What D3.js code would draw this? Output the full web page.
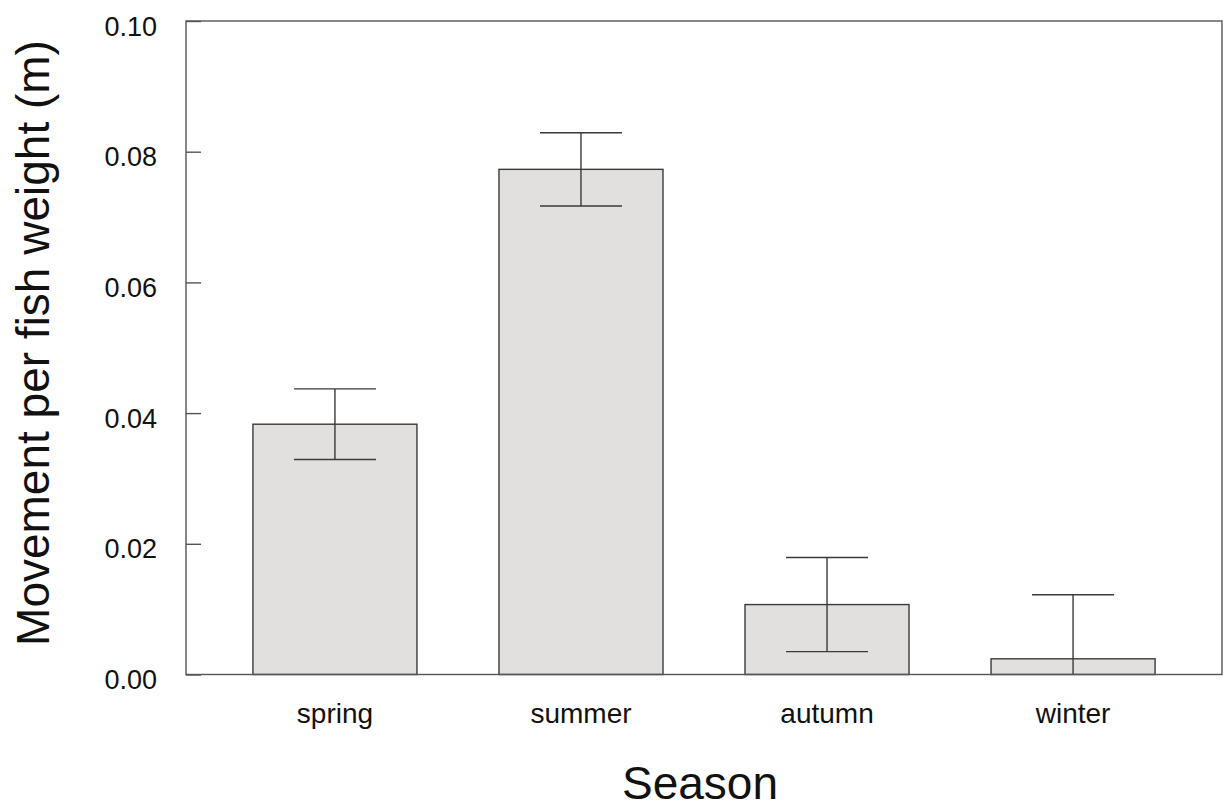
<!DOCTYPE html>
<html>
<head>
<meta charset="utf-8">
<script src="https://cdn.jsdelivr.net/npm/d3@7"></script>
<style>
  html, body { margin: 0; padding: 0; background: #fff; }
  svg text { font-family: "Liberation Sans", Arial, sans-serif; fill: #111; }
</style>
</head>
<body>
<svg id="chart" width="1223" height="811"></svg>
<script>
// Data
const seasons = ['spring', 'summer', 'autumn', 'winter'];
const means = [0.0383, 0.0773, 0.0107, 0.0024];
const errors = [0.0054, 0.0056, 0.0072, 0.0098];
const yTicks = [0, 0.02, 0.04, 0.06, 0.08, 0.10];

const svg = d3.select('#chart');
const width = +svg.attr('width');
const height = +svg.attr('height');
const margin = { top: 21, right: 1, bottom: 136.5, left: 186 };

const x = d3.scaleBand()
    .domain(seasons)
    .range([margin.left, width - margin.right])
    .paddingInner(1 / 3)
    .paddingOuter(0.272);

const y = d3.scaleLinear()
    .domain([0, 0.1])
    .range([height - margin.bottom, margin.top]);

const lineColor = '#3a3a3a';

// Bars
svg.append('g')
    .selectAll('rect')
    .data(seasons)
    .join('rect')
    .attr('x', d => x(d))
    .attr('y', (d, i) => y(means[i]))
    .attr('width', x.bandwidth())
    .attr('height', (d, i) => y(0) - y(means[i]))
    .attr('fill', '#e2dfdf')
    .attr('stroke', lineColor)
    .attr('stroke-width', 1.4);

// Error bars (lower part clipped at zero)
const eb = svg.append('g')
    .attr('stroke', lineColor)
    .attr('stroke-width', 1.4)
    .selectAll('g')
    .data(seasons)
    .join('g');

const capHalf = x.bandwidth() / 4;
eb.append('line')
    .attr('x1', d => x(d) + x.bandwidth() / 2)
    .attr('x2', d => x(d) + x.bandwidth() / 2)
    .attr('y1', (d, i) => y(Math.max(0, means[i] - errors[i])))
    .attr('y2', (d, i) => y(means[i] + errors[i]));
eb.append('line')
    .attr('x1', d => x(d) + x.bandwidth() / 2 - capHalf)
    .attr('x2', d => x(d) + x.bandwidth() / 2 + capHalf)
    .attr('y1', (d, i) => y(means[i] + errors[i]))
    .attr('y2', (d, i) => y(means[i] + errors[i]));
eb.filter((d, i) => means[i] - errors[i] > 0)
    .append('line')
    .attr('x1', d => x(d) + x.bandwidth() / 2 - capHalf)
    .attr('x2', d => x(d) + x.bandwidth() / 2 + capHalf)
    .attr('y1', d => y(means[seasons.indexOf(d)] - errors[seasons.indexOf(d)]))
    .attr('y2', d => y(means[seasons.indexOf(d)] - errors[seasons.indexOf(d)]));

// Y axis, ticks pointing inward
const yAxis = svg.append('g')
    .attr('transform', `translate(${margin.left},0)`)
    .call(d3.axisLeft(y).tickValues(yTicks).tickFormat(d3.format('.2f'))
        .tickSize(-15).tickSizeOuter(0).tickPadding(29));
yAxis.select('.domain').remove();
yAxis.selectAll('.tick line').attr('stroke', '#555').attr('stroke-width', 1.4);
yAxis.selectAll('.tick text')
    .attr('font-size', 27)
    .attr('dy', null)
    .attr('y', 14)
    .style('fill', '#111');

// X axis labels, no ticks
const xAxis = svg.append('g')
    .attr('transform', `translate(0,${y(0)})`)
    .call(d3.axisBottom(x).tickSize(0).tickPadding(0));
xAxis.select('.domain').remove();
xAxis.selectAll('.tick text')
    .attr('font-size', 28)
    .attr('dy', null)
    .attr('y', 48)
    .style('fill', '#111');

// Plot frame
svg.append('rect')
    .attr('x', margin.left)
    .attr('y', margin.top)
    .attr('width', width - margin.right - margin.left)
    .attr('height', y(0) - margin.top)
    .attr('fill', 'none')
    .attr('stroke', '#555')
    .attr('stroke-width', 1.4);

// Axis titles
svg.append('text')
    .attr('x', (margin.left + width - margin.right) / 2 - 4)
    .attr('y', 799)
    .attr('text-anchor', 'middle')
    .attr('font-size', 46)
    .text('Season');

svg.append('text')
    .attr('transform', `translate(49,${343}) rotate(-90)`)
    .attr('text-anchor', 'middle')
    .attr('font-size', 46)
    .text('Movement per fish weight (m)');
</script>
</body>
</html>
